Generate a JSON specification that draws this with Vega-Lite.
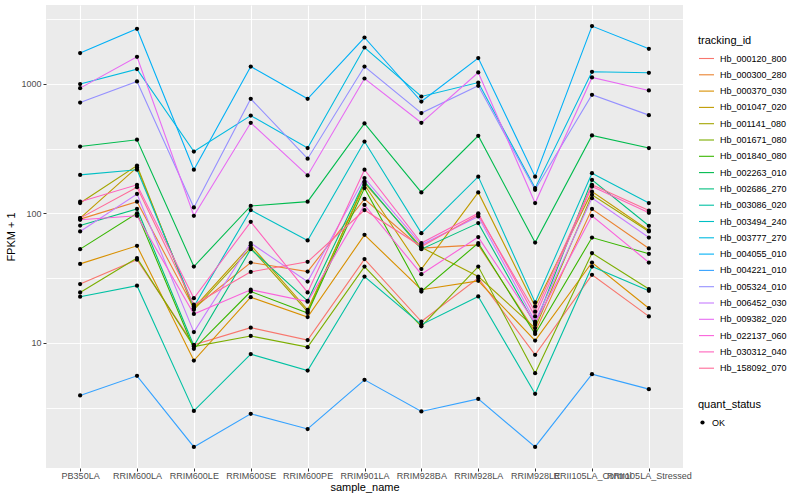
{
  "$schema": "https://vega.github.io/schema/vega-lite/v6.json",
  "width": 637,
  "height": 463,
  "padding": {"left": 5, "top": 5, "right": 5, "bottom": 5},
  "background": "white",
  "config": {
    "view": {"fill": "#EBEBEB", "stroke": null},
    "font": "Liberation Sans",
    "axis": {"domain": false, "gridColor": "#FFFFFF", "gridWidth": 1.1, "tickColor": "#333333", "tickSize": 3, "labelColor": "#4D4D4D", "labelFontSize": 9, "titleFontSize": 11, "titleFontWeight": "normal", "titleColor": "#000000", "labelFont": "Liberation Sans", "titleFont": "Liberation Sans"},
    "legend": {"titleFontSize": 11, "titleFontWeight": "normal", "titleColor": "#000000", "labelFontSize": 9, "labelColor": "#000000", "rowPadding": 2.3, "titlePadding": 4, "labelOffset": 5, "titleFont": "Liberation Sans", "labelFont": "Liberation Sans"}
  },
  "datasets": {
    "fpkm": [
      {"t":"Hb_000120_800","s":"PB350LA","v":28.4},{"t":"Hb_000120_800","s":"RRIM600LA","v":43.8},{"t":"Hb_000120_800","s":"RRIM600LE","v":9.65},{"t":"Hb_000120_800","s":"RRIM600SE","v":13.1},{"t":"Hb_000120_800","s":"RRIM600PE","v":10.5},{"t":"Hb_000120_800","s":"RRIM901LA","v":44.3},{"t":"Hb_000120_800","s":"RRIM928BA","v":14.6},{"t":"Hb_000120_800","s":"RRIM928LA","v":31.6},{"t":"Hb_000120_800","s":"RRIM928LE","v":8.08},{"t":"Hb_000120_800","s":"RRII105LA_Control","v":33.5},{"t":"Hb_000120_800","s":"RRII105LA_Stressed","v":16.0},
      {"t":"Hb_000300_280","s":"PB350LA","v":90.2},{"t":"Hb_000300_280","s":"RRIM600LA","v":123},{"t":"Hb_000300_280","s":"RRIM600LE","v":18.5},{"t":"Hb_000300_280","s":"RRIM600SE","v":41.7},{"t":"Hb_000300_280","s":"RRIM600PE","v":35.5},{"t":"Hb_000300_280","s":"RRIM901LA","v":129},{"t":"Hb_000300_280","s":"RRIM928BA","v":53.9},{"t":"Hb_000300_280","s":"RRIM928LA","v":57.1},{"t":"Hb_000300_280","s":"RRIM928LE","v":12.2},{"t":"Hb_000300_280","s":"RRII105LA_Control","v":108},{"t":"Hb_000300_280","s":"RRII105LA_Stressed","v":53.5},
      {"t":"Hb_000370_030","s":"PB350LA","v":40.7},{"t":"Hb_000370_030","s":"RRIM600LA","v":56.1},{"t":"Hb_000370_030","s":"RRIM600LE","v":7.3},{"t":"Hb_000370_030","s":"RRIM600SE","v":22.5},{"t":"Hb_000370_030","s":"RRIM600PE","v":15.8},{"t":"Hb_000370_030","s":"RRIM901LA","v":68.2},{"t":"Hb_000370_030","s":"RRIM928BA","v":25.7},{"t":"Hb_000370_030","s":"RRIM928LA","v":30.1},{"t":"Hb_000370_030","s":"RRIM928LE","v":10.4},{"t":"Hb_000370_030","s":"RRII105LA_Control","v":41.7},{"t":"Hb_000370_030","s":"RRII105LA_Stressed","v":18.5},
      {"t":"Hb_001047_020","s":"PB350LA","v":91.8},{"t":"Hb_001047_020","s":"RRIM600LA","v":226},{"t":"Hb_001047_020","s":"RRIM600LE","v":18.6},{"t":"Hb_001047_020","s":"RRIM600SE","v":56.8},{"t":"Hb_001047_020","s":"RRIM600PE","v":18.0},{"t":"Hb_001047_020","s":"RRIM901LA","v":166},{"t":"Hb_001047_020","s":"RRIM928BA","v":37.1},{"t":"Hb_001047_020","s":"RRIM928LA","v":145},{"t":"Hb_001047_020","s":"RRIM928LE","v":19.1},{"t":"Hb_001047_020","s":"RRII105LA_Control","v":147},{"t":"Hb_001047_020","s":"RRII105LA_Stressed","v":73.7},
      {"t":"Hb_001141_080","s":"PB350LA","v":120},{"t":"Hb_001141_080","s":"RRIM600LA","v":234},{"t":"Hb_001141_080","s":"RRIM600LE","v":18.0},{"t":"Hb_001141_080","s":"RRIM600SE","v":53.9},{"t":"Hb_001141_080","s":"RRIM600PE","v":17.4},{"t":"Hb_001141_080","s":"RRIM901LA","v":172},{"t":"Hb_001141_080","s":"RRIM928BA","v":54.6},{"t":"Hb_001141_080","s":"RRIM928LA","v":32.5},{"t":"Hb_001141_080","s":"RRIM928LE","v":13.0},{"t":"Hb_001141_080","s":"RRII105LA_Control","v":139},{"t":"Hb_001141_080","s":"RRII105LA_Stressed","v":72.4},
      {"t":"Hb_001671_080","s":"PB350LA","v":24.5},{"t":"Hb_001671_080","s":"RRIM600LA","v":45.1},{"t":"Hb_001671_080","s":"RRIM600LE","v":9.36},{"t":"Hb_001671_080","s":"RRIM600SE","v":11.3},{"t":"Hb_001671_080","s":"RRIM600PE","v":9.26},{"t":"Hb_001671_080","s":"RRIM901LA","v":38.8},{"t":"Hb_001671_080","s":"RRIM928BA","v":13.4},{"t":"Hb_001671_080","s":"RRIM928LA","v":38.8},{"t":"Hb_001671_080","s":"RRIM928LE","v":5.83},{"t":"Hb_001671_080","s":"RRII105LA_Control","v":49.3},{"t":"Hb_001671_080","s":"RRII105LA_Stressed","v":26.0},
      {"t":"Hb_001840_080","s":"PB350LA","v":52.9},{"t":"Hb_001840_080","s":"RRIM600LA","v":100},{"t":"Hb_001840_080","s":"RRIM600LE","v":8.99},{"t":"Hb_001840_080","s":"RRIM600SE","v":24.9},{"t":"Hb_001840_080","s":"RRIM600PE","v":17.0},{"t":"Hb_001840_080","s":"RRIM901LA","v":156.5},{"t":"Hb_001840_080","s":"RRIM928BA","v":24.9},{"t":"Hb_001840_080","s":"RRIM928LA","v":58.9},{"t":"Hb_001840_080","s":"RRIM928LE","v":11.7},{"t":"Hb_001840_080","s":"RRII105LA_Control","v":65.0},{"t":"Hb_001840_080","s":"RRII105LA_Stressed","v":48.7},
      {"t":"Hb_002263_010","s":"PB350LA","v":328},{"t":"Hb_002263_010","s":"RRIM600LA","v":370},{"t":"Hb_002263_010","s":"RRIM600LE","v":38.8},{"t":"Hb_002263_010","s":"RRIM600SE","v":114},{"t":"Hb_002263_010","s":"RRIM600PE","v":123},{"t":"Hb_002263_010","s":"RRIM901LA","v":494},{"t":"Hb_002263_010","s":"RRIM928BA","v":145},{"t":"Hb_002263_010","s":"RRIM928LA","v":397},{"t":"Hb_002263_010","s":"RRIM928LE","v":59.5},{"t":"Hb_002263_010","s":"RRII105LA_Control","v":399},{"t":"Hb_002263_010","s":"RRII105LA_Stressed","v":319},
      {"t":"Hb_002686_270","s":"PB350LA","v":80.5},{"t":"Hb_002686_270","s":"RRIM600LA","v":108},{"t":"Hb_002686_270","s":"RRIM600LE","v":9.5},{"t":"Hb_002686_270","s":"RRIM600SE","v":52.9},{"t":"Hb_002686_270","s":"RRIM600PE","v":21.1},{"t":"Hb_002686_270","s":"RRIM901LA","v":176},{"t":"Hb_002686_270","s":"RRIM928BA","v":52.9},{"t":"Hb_002686_270","s":"RRIM928LA","v":84.0},{"t":"Hb_002686_270","s":"RRIM928LE","v":13.8},{"t":"Hb_002686_270","s":"RRII105LA_Control","v":181},{"t":"Hb_002686_270","s":"RRII105LA_Stressed","v":80.1},
      {"t":"Hb_003086_020","s":"PB350LA","v":22.7},{"t":"Hb_003086_020","s":"RRIM600LA","v":27.6},{"t":"Hb_003086_020","s":"RRIM600LE","v":2.98},{"t":"Hb_003086_020","s":"RRIM600SE","v":8.18},{"t":"Hb_003086_020","s":"RRIM600PE","v":6.11},{"t":"Hb_003086_020","s":"RRIM901LA","v":32.5},{"t":"Hb_003086_020","s":"RRIM928BA","v":13.8},{"t":"Hb_003086_020","s":"RRIM928LA","v":22.8},{"t":"Hb_003086_020","s":"RRIM928LE","v":4.04},{"t":"Hb_003086_020","s":"RRII105LA_Control","v":38.8},{"t":"Hb_003086_020","s":"RRII105LA_Stressed","v":25.2},
      {"t":"Hb_003494_240","s":"PB350LA","v":198},{"t":"Hb_003494_240","s":"RRIM600LA","v":217},{"t":"Hb_003494_240","s":"RRIM600LE","v":19.1},{"t":"Hb_003494_240","s":"RRIM600SE","v":106},{"t":"Hb_003494_240","s":"RRIM600PE","v":61.7},{"t":"Hb_003494_240","s":"RRIM901LA","v":358},{"t":"Hb_003494_240","s":"RRIM928BA","v":70.3},{"t":"Hb_003494_240","s":"RRIM928LA","v":192},{"t":"Hb_003494_240","s":"RRIM928LE","v":20.5},{"t":"Hb_003494_240","s":"RRII105LA_Control","v":204},{"t":"Hb_003494_240","s":"RRII105LA_Stressed","v":120},
      {"t":"Hb_003777_270","s":"PB350LA","v":995},{"t":"Hb_003777_270","s":"RRIM600LA","v":1299},{"t":"Hb_003777_270","s":"RRIM600LE","v":300},{"t":"Hb_003777_270","s":"RRIM600SE","v":569},{"t":"Hb_003777_270","s":"RRIM600PE","v":319},{"t":"Hb_003777_270","s":"RRIM901LA","v":1907},{"t":"Hb_003777_270","s":"RRIM928BA","v":798},{"t":"Hb_003777_270","s":"RRIM928LA","v":1023},{"t":"Hb_003777_270","s":"RRIM928LE","v":156.5},{"t":"Hb_003777_270","s":"RRII105LA_Control","v":1238},{"t":"Hb_003777_270","s":"RRII105LA_Stressed","v":1216},
      {"t":"Hb_004055_010","s":"PB350LA","v":1727},{"t":"Hb_004055_010","s":"RRIM600LA","v":2659},{"t":"Hb_004055_010","s":"RRIM600LE","v":217},{"t":"Hb_004055_010","s":"RRIM600SE","v":1360},{"t":"Hb_004055_010","s":"RRIM600PE","v":766},{"t":"Hb_004055_010","s":"RRIM901LA","v":2278},{"t":"Hb_004055_010","s":"RRIM928BA","v":730},{"t":"Hb_004055_010","s":"RRIM928LA","v":1579},{"t":"Hb_004055_010","s":"RRIM928LE","v":192},{"t":"Hb_004055_010","s":"RRII105LA_Control","v":2790},{"t":"Hb_004055_010","s":"RRII105LA_Stressed","v":1863},
      {"t":"Hb_004221_010","s":"PB350LA","v":3.92},{"t":"Hb_004221_010","s":"RRIM600LA","v":5.56},{"t":"Hb_004221_010","s":"RRIM600LE","v":1.57},{"t":"Hb_004221_010","s":"RRIM600SE","v":2.83},{"t":"Hb_004221_010","s":"RRIM600PE","v":2.16},{"t":"Hb_004221_010","s":"RRIM901LA","v":5.18},{"t":"Hb_004221_010","s":"RRIM928BA","v":2.95},{"t":"Hb_004221_010","s":"RRIM928LA","v":3.69},{"t":"Hb_004221_010","s":"RRIM928LE","v":1.57},{"t":"Hb_004221_010","s":"RRII105LA_Control","v":5.73},{"t":"Hb_004221_010","s":"RRII105LA_Stressed","v":4.39},
      {"t":"Hb_005324_010","s":"PB350LA","v":717},{"t":"Hb_005324_010","s":"RRIM600LA","v":1042},{"t":"Hb_005324_010","s":"RRIM600LE","v":111},{"t":"Hb_005324_010","s":"RRIM600SE","v":766},{"t":"Hb_005324_010","s":"RRIM600PE","v":264},{"t":"Hb_005324_010","s":"RRIM901LA","v":1360},{"t":"Hb_005324_010","s":"RRIM928BA","v":594},{"t":"Hb_005324_010","s":"RRIM928LA","v":965},{"t":"Hb_005324_010","s":"RRIM928LE","v":152},{"t":"Hb_005324_010","s":"RRII105LA_Control","v":823},{"t":"Hb_005324_010","s":"RRII105LA_Stressed","v":573},
      {"t":"Hb_006452_030","s":"PB350LA","v":72.4},{"t":"Hb_006452_030","s":"RRIM600LA","v":141},{"t":"Hb_006452_030","s":"RRIM600LE","v":12.1},{"t":"Hb_006452_030","s":"RRIM600SE","v":58.9},{"t":"Hb_006452_030","s":"RRIM600PE","v":29.7},{"t":"Hb_006452_030","s":"RRIM901LA","v":187},{"t":"Hb_006452_030","s":"RRIM928BA","v":57.1},{"t":"Hb_006452_030","s":"RRIM928LA","v":94.5},{"t":"Hb_006452_030","s":"RRIM928LE","v":14.6},{"t":"Hb_006452_030","s":"RRII105LA_Control","v":131},{"t":"Hb_006452_030","s":"RRII105LA_Stressed","v":65.0},
      {"t":"Hb_009382_020","s":"PB350LA","v":926},{"t":"Hb_009382_020","s":"RRIM600LA","v":1616},{"t":"Hb_009382_020","s":"RRIM600LE","v":95.7},{"t":"Hb_009382_020","s":"RRIM600SE","v":500},{"t":"Hb_009382_020","s":"RRIM600PE","v":196},{"t":"Hb_009382_020","s":"RRIM901LA","v":1099},{"t":"Hb_009382_020","s":"RRIM928BA","v":500},{"t":"Hb_009382_020","s":"RRIM928LA","v":1223},{"t":"Hb_009382_020","s":"RRIM928LE","v":120},{"t":"Hb_009382_020","s":"RRII105LA_Control","v":1119},{"t":"Hb_009382_020","s":"RRII105LA_Stressed","v":888},
      {"t":"Hb_022137_060","s":"PB350LA","v":89.1},{"t":"Hb_022137_060","s":"RRIM600LA","v":95.7},{"t":"Hb_022137_060","s":"RRIM600LE","v":16.7},{"t":"Hb_022137_060","s":"RRIM600SE","v":25.7},{"t":"Hb_022137_060","s":"RRIM600PE","v":20.8},{"t":"Hb_022137_060","s":"RRIM901LA","v":116},{"t":"Hb_022137_060","s":"RRIM928BA","v":33.9},{"t":"Hb_022137_060","s":"RRIM928LA","v":65.5},{"t":"Hb_022137_060","s":"RRIM928LE","v":14.2},{"t":"Hb_022137_060","s":"RRII105LA_Control","v":95.7},{"t":"Hb_022137_060","s":"RRII105LA_Stressed","v":41.7},
      {"t":"Hb_030312_040","s":"PB350LA","v":123},{"t":"Hb_030312_040","s":"RRIM600LA","v":166},{"t":"Hb_030312_040","s":"RRIM600LE","v":22.1},{"t":"Hb_030312_040","s":"RRIM600SE","v":86.0},{"t":"Hb_030312_040","s":"RRIM600PE","v":24.5},{"t":"Hb_030312_040","s":"RRIM901LA","v":217},{"t":"Hb_030312_040","s":"RRIM928BA","v":58.9},{"t":"Hb_030312_040","s":"RRIM928LA","v":100},{"t":"Hb_030312_040","s":"RRIM928LE","v":16.0},{"t":"Hb_030312_040","s":"RRII105LA_Control","v":161},{"t":"Hb_030312_040","s":"RRII105LA_Stressed","v":101},
      {"t":"Hb_158092_070","s":"PB350LA","v":91.8},{"t":"Hb_158092_070","s":"RRIM600LA","v":159},{"t":"Hb_158092_070","s":"RRIM600LE","v":19.7},{"t":"Hb_158092_070","s":"RRIM600SE","v":35.3},{"t":"Hb_158092_070","s":"RRIM600PE","v":42.2},{"t":"Hb_158092_070","s":"RRIM901LA","v":106},{"t":"Hb_158092_070","s":"RRIM928BA","v":55.4},{"t":"Hb_158092_070","s":"RRIM928LA","v":97.4},{"t":"Hb_158092_070","s":"RRIM928LE","v":17.4},{"t":"Hb_158092_070","s":"RRII105LA_Control","v":166},{"t":"Hb_158092_070","s":"RRII105LA_Stressed","v":105}
    ]
  },
  "data": {"name": "fpkm"},
  "encoding": {
    "x": {"field": "s", "type": "nominal", "sort": ["PB350LA","RRIM600LA","RRIM600LE","RRIM600SE","RRIM600PE","RRIM901LA","RRIM928BA","RRIM928LA","RRIM928LE","RRII105LA_Control","RRII105LA_Stressed"], "scale": {"type": "point", "padding": 0.6}, "axis": {"title": "sample_name", "labelAngle": 0, "labelOverlap": false, "grid": true, "labelPadding": 0, "titlePadding": 1, "zindex": 0}},
    "y": {"field": "v", "type": "quantitative", "scale": {"type": "log", "domain": [1.08, 4060], "nice": false}, "axis": {"title": "FPKM + 1", "values": [3.1623, 10, 31.623, 100, 316.23, 1000, 3162.3], "format": "d", "labelExpr": "(datum.value == 10 || datum.value == 100 || datum.value == 1000) ? datum.label : ''", "grid": true, "gridColor": "#FFFFFF", "gridWidth": 0.9, "zindex": 0, "tickOpacity": {"condition": {"test": "datum.value == 10 || datum.value == 100 || datum.value == 1000", "value": 1}, "value": 0}, "labelPadding": 2, "titlePadding": 4}}
  },
  "layer": [
    {
      "mark": {"type": "line", "strokeWidth": 1.1},
      "encoding": {
        "color": {"field": "t", "type": "nominal", "scale": {"range": ["#F8766D","#EA8331","#D89000","#C09B00","#A3A500","#7CAE00","#39B600","#00BB4E","#00BF7D","#00C1A3","#00BFC4","#00BAE0","#00B0F6","#35A2FF","#9590FF","#C77CFF","#E76BF3","#FA62DB","#FF62BC","#FF6A98"]}, "legend": {"title": "tracking_id", "orient": "none", "legendX": 652, "legendY": 30, "symbolType": "stroke", "symbolSize": 225, "symbolStrokeWidth": 1.1}}
      }
    },
    {
      "mark": {"type": "point", "filled": true, "color": "#000000", "size": 18, "opacity": 1},
      "encoding": {
        "shape": {"datum": "OK", "scale": {"range": ["circle"]}, "legend": {"title": "quant_status", "orient": "none", "legendX": 652, "legendY": 394, "titlePadding": 8, "symbolSize": 18, "symbolFillColor": "#000000"}}
      }
    }
  ]
}
